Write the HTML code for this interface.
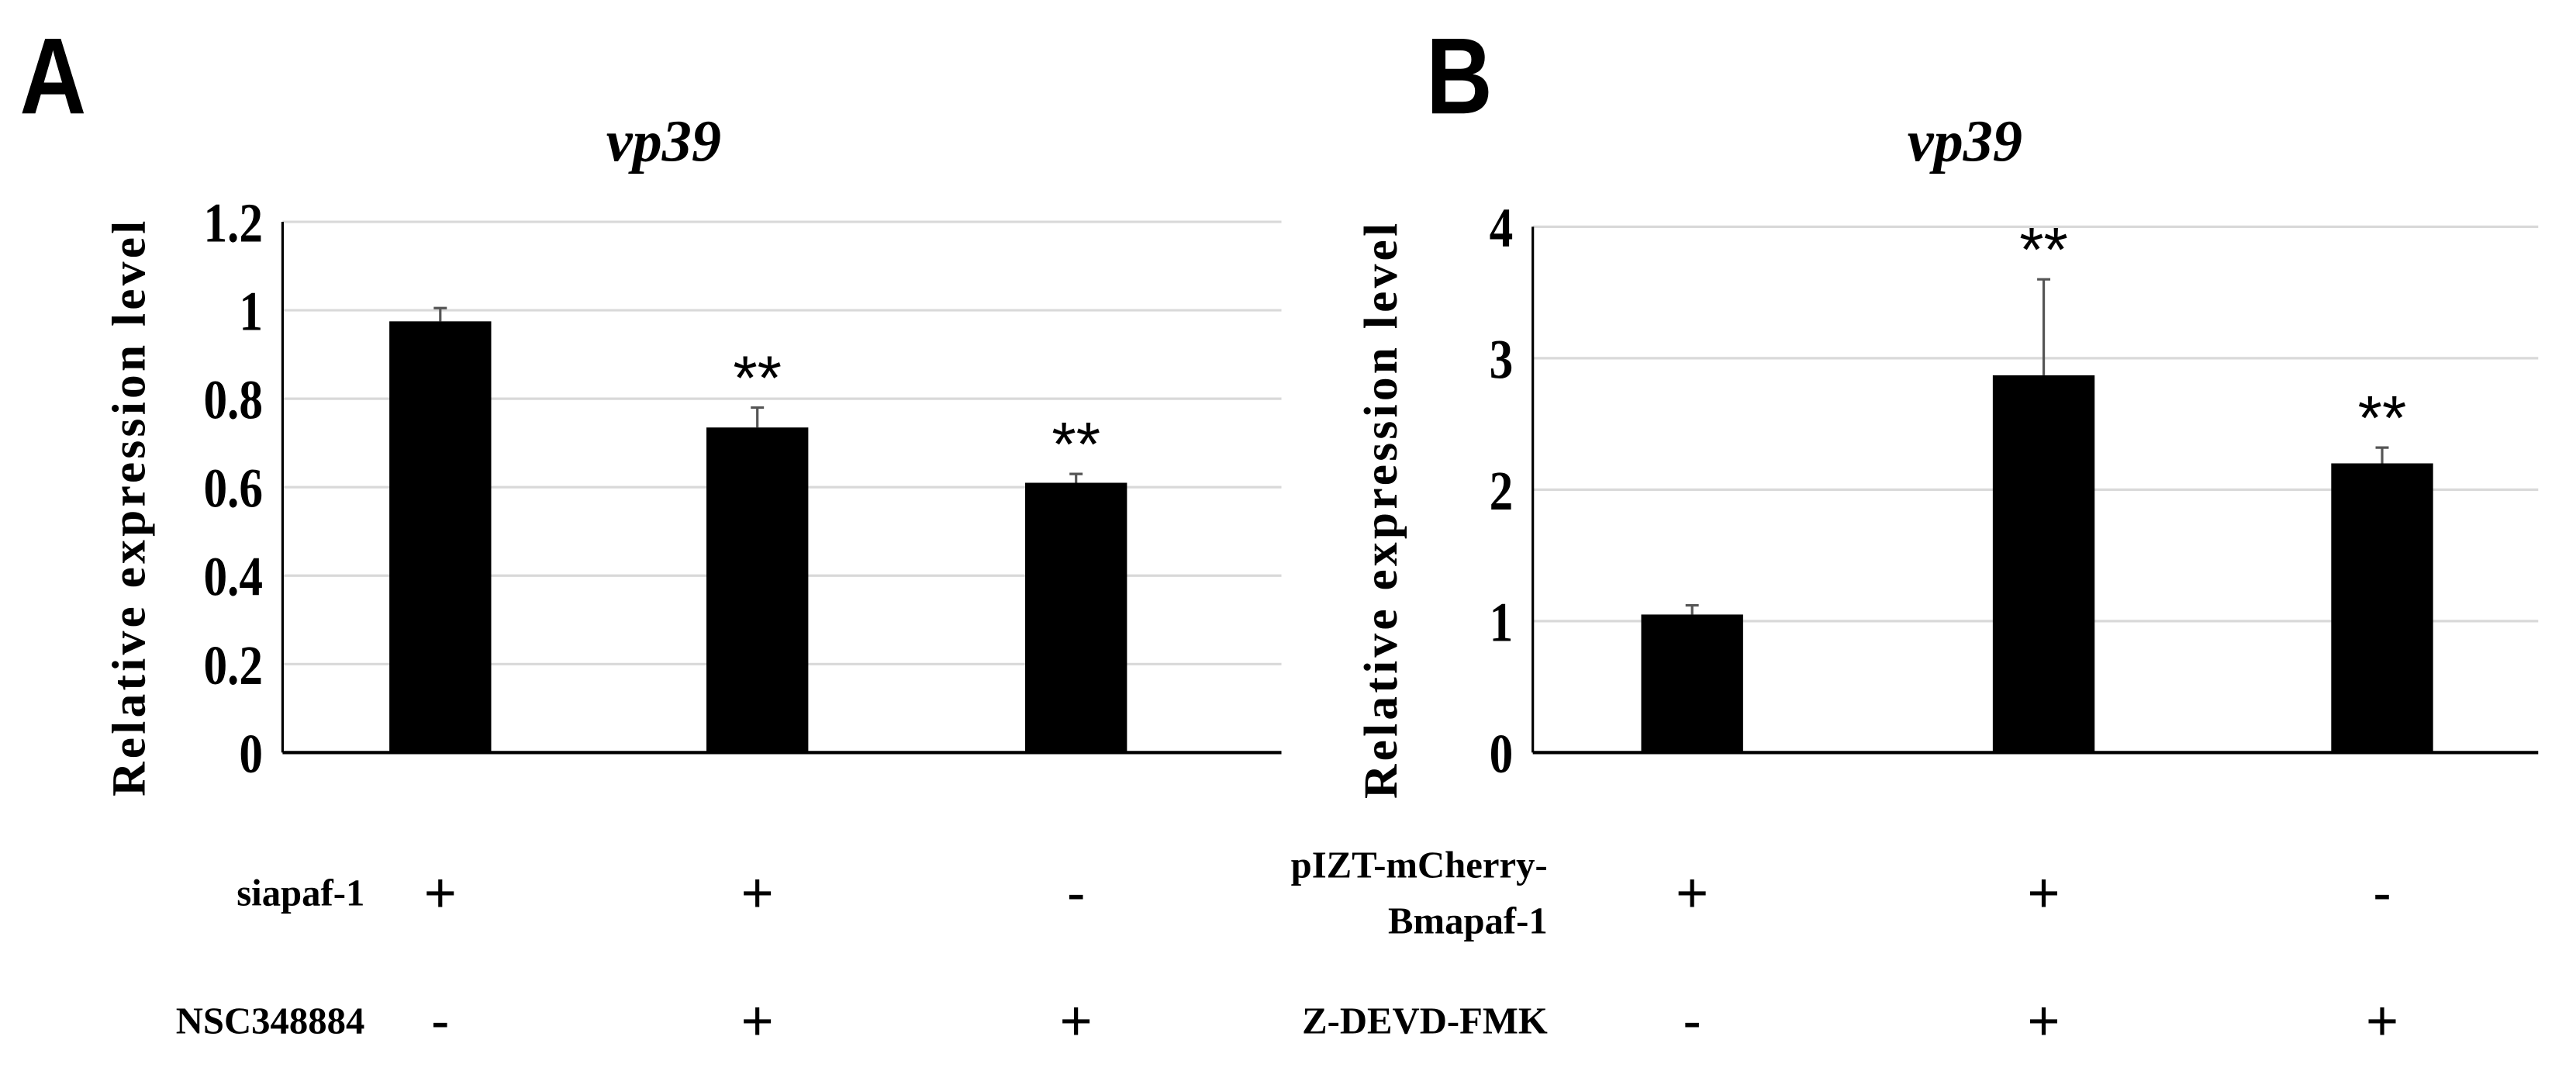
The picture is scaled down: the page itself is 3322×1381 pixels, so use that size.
<!DOCTYPE html>
<html><head><meta charset="utf-8"><style>
html,body{margin:0;padding:0;background:#fff;}
svg{display:block;}
text{font-family:"Liberation Serif",serif;font-weight:bold;fill:#000;}
.sans{font-family:"Liberation Sans",sans-serif;}
</style></head><body>
<svg id="fig" width="3322" height="1381" viewBox="0 0 1568 651.8" preserveAspectRatio="none" xmlns="http://www.w3.org/2000/svg">
<g id="gA"></g>
<g id="gB"></g>
</svg>
<script>
const ticksA=[0,0.2,0.4,0.6,0.8,1,1.2];
const tickLabelsA=["0","0.2","0.4","0.6","0.8","1","1.2"];
const valuesA=[0.975,0.735,0.61];
const errorsA=[0.03,0.045,0.02];
const sigA=["","**","**"];
const ticksB=[0,1,2,3,4];
const tickLabelsB=["0","1","2","3","4"];
const valuesB=[1.05,2.87,2.2];
const errorsB=[0.07,0.73,0.12];
const sigB=["","**","**"];
const rowsA=[["siapaf-1"],["NSC348884"]];
const signsA=[["+","+","-"],["-","+","+"]];
const rowsB=[["pIZT-mCherry-","Bmapaf-1"],["Z-DEVD-FMK"]];
const signsB=[["+","+","-"],["-","+","+"]];
const NS="http://www.w3.org/2000/svg";
function mk(parent,tag,attrs,txt){const e=document.createElementNS(NS,tag);for(const k in attrs)e.setAttribute(k,attrs[k]);if(txt!==undefined)e.textContent=txt;parent.appendChild(e);return e;}
function panel(g,cfg){
  const y=v=>cfg.y0-(v/cfg.max)*(cfg.y0-cfg.yTop);
  cfg.ticks.forEach((t,i)=>{
    if(t>0){const l=mk(g,'line',{x1:cfg.ax,x2:cfg.right,y1:y(t),y2:y(t),stroke:'#d9d9d9','stroke-width':1.5});
    
    }
    const tx=mk(g,'text',{x:0,y:0,'text-anchor':'end','font-size':34,transform:`translate(${cfg.ax-12},${y(t)+12}) scale(0.85,1)`},cfg.tickLabels[i]);
    
    
  });
  const ax=mk(g,'line',{x1:cfg.ax,x2:cfg.ax,y1:cfg.yTop,y2:cfg.y0,stroke:'#000','stroke-width':1.5});
  
  
  const xa=mk(g,'line',{x1:cfg.ax,x2:cfg.right,y1:cfg.y0,y2:cfg.y0,stroke:'#000','stroke-width':2});
  
  
  const bw=62;
  cfg.values.forEach((v,i)=>{
    const cx=cfg.cx[i];
    const ey=y(v+cfg.errors[i]);
    const el=mk(g,'line',{x1:cx,x2:cx,y1:ey,y2:y(v),stroke:'#555','stroke-width':1.5});
    
    
    const ec=mk(g,'line',{x1:cx-4,x2:cx+4,y1:ey,y2:ey,stroke:'#555','stroke-width':1.5});
    
    
    const r=mk(g,'rect',{x:cx-bw/2,y:y(v),width:bw,height:cfg.y0-y(v),fill:'#000'});
    
    
    if(cfg.sig[i]){const s=mk(g,'text',{x:cx,y:ey-5,'text-anchor':'middle','font-size':38,style:'font-family:"Liberation Sans",sans-serif;font-weight:normal'},cfg.sig[i]);
      
      }
  });
  const tl=mk(g,'text',{x:cfg.titleX,y:98,'text-anchor':'middle','font-size':36,'font-style':'italic'},'vp39');
  
  
  const mid=(cfg.yTop+cfg.y0)/2;
  const yt=mk(g,'text',{x:0,y:0,'text-anchor':'middle','font-size':29,'letter-spacing':2,transform:`translate(${cfg.ytX},${mid+12}) rotate(-90)`},'Relative expression level');
  
  
  const lt=mk(g,'text',{x:0,y:0,'font-size':66,class:'sans',transform:`translate(${cfg.letterX},69) scale(0.85,1)`},cfg.letter);
  
  
  cfg.rows.forEach((lines,ri)=>{
    const ry=cfg.rowY[ri];
    lines.forEach((ln,li)=>{
      const off=(li-(lines.length-1)/2)*34;
      const t=mk(g,'text',{x:cfg.labelRight,y:ry+off+8,'text-anchor':'end','font-size':23},ln);
      
      
    });
    cfg.signs[ri].forEach((s,i)=>{
      const t=mk(g,'text',{x:cfg.cx[i],y:ry+12,'text-anchor':'middle','font-size':34,style:'font-family:"Liberation Sans",sans-serif;font-weight:normal'},s);
      
      
    });
  });
}
panel(document.getElementById('gA'),{ax:172,right:780,yTop:135,y0:458,max:1.2,ticks:ticksA,tickLabels:tickLabelsA,values:valuesA,errors:errorsA,sig:sigA,cx:[268,461,655],titleX:404,ytX:88,letter:'A',letterX:12,rows:rowsA,signs:signsA,rowY:[543,621],labelRight:222});
panel(document.getElementById('gB'),{ax:933,right:1545,yTop:138,y0:458,max:4,ticks:ticksB,tickLabels:tickLabelsB,values:valuesB,errors:errorsB,sig:sigB,cx:[1030,1244,1450],titleX:1196,ytX:850,letter:'B',letterX:868,rows:rowsB,signs:signsB,rowY:[543,621],labelRight:942});
</script>
</body></html>
